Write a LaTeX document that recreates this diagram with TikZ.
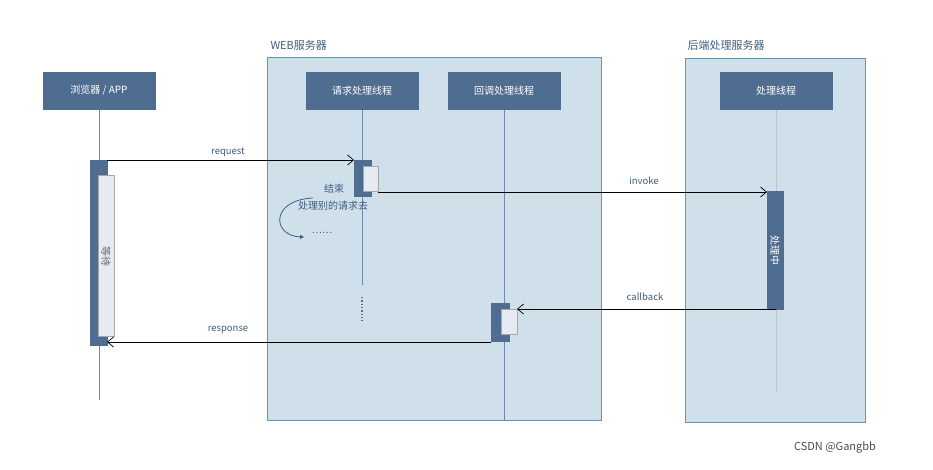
\documentclass[tikz,border=0pt]{standalone}
\usepackage{fontspec}
\setmainfont{Noto Sans CJK SC}
\usetikzlibrary{arrows.meta}
\definecolor{lanefill}{HTML}{CFE0EA}
\definecolor{lanedraw}{HTML}{5A9AB8}
\definecolor{actor}{HTML}{4F6D91}
\definecolor{act2}{HTML}{E4EBF2}
\definecolor{lbl}{HTML}{3F5F7F}
\begin{document}
\begin{tikzpicture}[x=1pt,y=-1pt,
  lane/.style={draw=lanedraw,fill=lanefill,line width=0.8pt},
  actorbox/.style={fill=actor,draw=actor,text=white,font=\fontsize{10}{12}\selectfont},
  life/.style={draw=actor!80,line width=0.7pt},
  actdark/.style={fill=actor,draw=actor},
  actlight/.style={fill=act2,draw=gray!70,line width=0.4pt},
  msg/.style={draw=black,line width=0.7pt,-{Straight Barb[length=6pt,width=10pt]}},
  mlabel/.style={text=lbl,font=\fontsize{9.5}{11}\selectfont},
  lanelabel/.style={text=lbl,font=\fontsize{11}{13}\selectfont,anchor=west}]
\useasboundingbox (0,0) rectangle (933,470);
\fill[white] (0,0) rectangle (933,470);
% lanes
\draw[lane] (267,57) rectangle (601,420);
\draw[lane] (685,58) rectangle (865,422);
\node[lanelabel] (webl) at (267,45) {WEB服务器};
\node[lanelabel] (backl) at (684,45) {后端处理服务器};
% lifelines
\coordinate (l1t) at (99,109); \coordinate (l1b) at (99,400);
\coordinate (l2t) at (362,109); \coordinate (l2b) at (362,285);
\coordinate (l3t) at (504,109); \coordinate (l3b) at (504,420);
\coordinate (l4t) at (776,109); \coordinate (l4b) at (776,392);
\draw[life] (l1t) -- (l1b);
\draw[life] (l2t) -- (l2b);
\draw[life] (l3t) -- (l3b);
\draw[life,draw=actor!40] (l4t) -- (l4b);
\coordinate (d1) at (362,297); \coordinate (d2) at (362,321);
\draw[actor,line width=1.3pt,dash pattern=on 1.3pt off 2pt] (d1) -- (d2);
% actors
\node[actorbox,minimum width=112pt,minimum height=37pt] (browser) at (99,90.5) {浏览器 / APP};
\node[actorbox,minimum width=112pt,minimum height=37pt] (req) at (362,90.5) {请求处理线程};
\node[actorbox,minimum width=112pt,minimum height=37pt] (cb) at (504,90.5) {回调处理线程};
\node[actorbox,minimum width=112pt,minimum height=37pt] (proc) at (776,90.5) {处理线程};
% activations
\draw[actdark] (90,160) rectangle (107,345);
\draw[actlight] (98,175) rectangle (114,336);
\node[rotate=-90,text=gray!80!black,font=\fontsize{10}{12}\selectfont] (wait) at (106,256) {等待};
\draw[actdark] (354,160) rectangle (371,196);
\draw[actlight] (363,166) rectangle (378,191);
\draw[actdark] (767,191) rectangle (783,309);
\node[rotate=-90,text=white,font=\fontsize{10}{12}\selectfont] (busy) at (775,250) {处理中};
\draw[actdark] (491,303) rectangle (509,341);
\draw[actlight] (501,309) rectangle (517,334);
% messages
\coordinate (rq1) at (107,160); \coordinate (rq2) at (354,160);
\coordinate (iv1) at (378,192); \coordinate (iv2) at (767,192);
\coordinate (cb1) at (776,309); \coordinate (cb2) at (517,309);
\coordinate (rs1) at (491,342); \coordinate (rs2) at (107,342);
\draw[msg] (rq1) -- (rq2);
\draw[msg] (iv1) -- (iv2);
\draw[msg] (cb1) -- (cb2);
\draw[msg] (rs1) -- (rs2);
\node[mlabel] (rql) at (228,152) {request};
\node[mlabel] (ivl) at (644,181) {invoke};
\node[mlabel] (cbl) at (645,297) {callback};
\node[mlabel] (rsl) at (228,330) {response};
% note
\node[mlabel,font=\fontsize{10}{12}\selectfont] (end) at (334,189) {结束};
\node[mlabel,font=\fontsize{10}{12}\selectfont] (other) at (333,206) {处理别的请求去};
\coordinate (ca) at (313,198); \coordinate (cz) at (304,237);
\draw[lbl,line width=0.8pt,-{Triangle[length=4pt,width=4pt]}] (ca) .. controls (270,200) and (272,236) .. (cz);
\node[mlabel] (dots) at (322,233) {……};
% watermark
\node[text=gray!60!black,font=\fontsize{11}{13}\selectfont] (wm) at (835,447) {CSDN @Gangbb};
\end{tikzpicture}
\end{document}
